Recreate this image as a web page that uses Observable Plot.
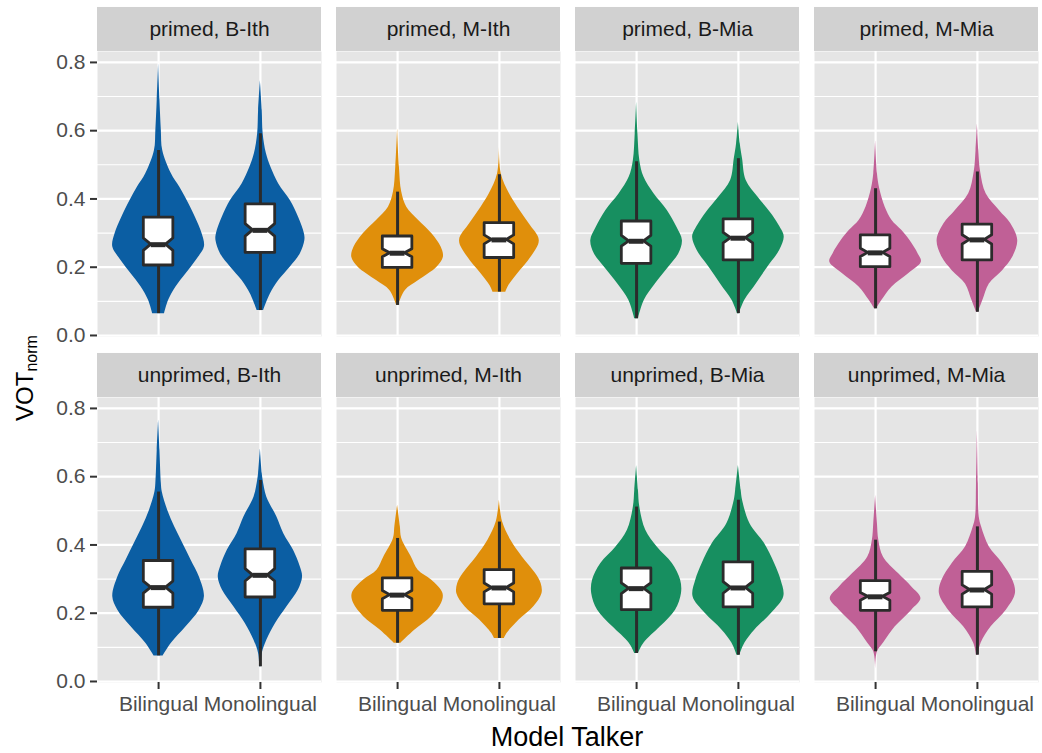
<!DOCTYPE html>
<html><head><meta charset="utf-8">
<script src="https://cdn.jsdelivr.net/npm/d3@7"></script>
<script src="https://cdn.jsdelivr.net/npm/@observablehq/plot@0.6"></script>
<style>body{margin:0;background:#fff;}</style>
</head><body><div id="chart"></div>
<script>
const primes = ["primed", "unprimed"];
const talkers = ["B-Ith", "M-Ith", "B-Mia", "M-Mia"];
const groups = ["Bilingual", "Monolingual"];
const talkerColors = ["#0B5EA3", "#E08F0B", "#178F60", "#C06096"];
const yTicks = [0, 0.2, 0.4, 0.6, 0.8];
const yMinor = [0.1, 0.3, 0.5, 0.7];

// order: primed (B-Ith Bil, B-Ith Mono, M-Ith Bil, M-Ith Mono, B-Mia Bil, B-Mia Mono, M-Mia Bil, M-Mia Mono), then unprimed, same order
const whiskerLow  = [0.064, 0.073, 0.088, 0.127, 0.049, 0.064, 0.078, 0.068,
                     0.075, 0.043, 0.112, 0.126, 0.082, 0.077, 0.087, 0.077];
const q1s         = [0.205, 0.242, 0.198, 0.227, 0.210, 0.220, 0.200, 0.220,
                     0.216, 0.246, 0.207, 0.226, 0.209, 0.217, 0.207, 0.217];
const medians     = [0.266, 0.308, 0.241, 0.280, 0.276, 0.285, 0.242, 0.280,
                     0.275, 0.311, 0.253, 0.274, 0.272, 0.274, 0.248, 0.268];
const q3s         = [0.345, 0.384, 0.290, 0.329, 0.334, 0.340, 0.293, 0.325,
                     0.353, 0.387, 0.302, 0.326, 0.331, 0.349, 0.294, 0.321];
const whiskerHigh = [0.542, 0.591, 0.420, 0.471, 0.509, 0.518, 0.430, 0.479,
                     0.555, 0.589, 0.419, 0.467, 0.511, 0.531, 0.414, 0.453];
const groupSize = 150; // estimated observations per violin (for notch size)

// violin outlines: [VOT value, relative half-width]
const primedProfiles = [
  [[.064,.13],[.103,.22],[.142,.38],[.181,.60],[.22,.82],[.259,1.0],[.298,.95],[.347,.80],[.396,.62],[.435,.46],[.474,.28],[.542,.09],[.60,.06],[.689,.03],[.796,0]],
  [[.073,.07],[.122,.22],[.161,.40],[.200,.65],[.239,.87],[.278,.97],[.298,.96],[.347,.83],[.396,.65],[.444,.40],[.493,.23],[.533,.13],[.591,.06],[.659,.04],[.747,0]],
  [[.088,.02],[.132,.17],[.161,.46],[.2,.86],[.229,1.0],[.259,.95],[.298,.75],[.337,.46],[.376,.2],[.42,.09],[.493,.04],[.606,0]],
  [[.127,.14],[.145,.2],[.181,.40],[.229,.69],[.278,.87],[.327,.65],[.376,.40],[.415,.22],[.474,.04],[.562,0]],
  [[.049,.04],[.103,.17],[.151,.41],[.2,.70],[.239,.92],[.278,1.0],[.317,.88],[.366,.67],[.415,.38],[.464,.16],[.513,.07],[.591,.03],[.684,0]],
  [[.064,.02],[.103,.14],[.151,.39],[.2,.64],[.249,.9],[.288,1.0],[.308,.95],[.357,.72],[.405,.43],[.454,.17],[.518,.09],[.562,.04],[.625,0]],
  [[.078,.02],[.103,.14],[.142,.36],[.181,.72],[.215,1.0],[.239,.93],[.278,.75],[.308,.57],[.337,.36],[.376,.21],[.43,.09],[.474,.04],[.571,0]],
  [[.068,.02],[.103,.12],[.151,.26],[.19,.55],[.229,.77],[.278,.88],[.327,.73],[.366,.48],[.415,.19],[.479,.07],[.542,.03],[.62,0]]
];
const unprimedProfiles = [
  [[.075,.10],[.112,.28],[.16,.60],[.209,.89],[.248,1.0],[.306,.89],[.355,.71],[.404,.53],[.453,.35],[.501,.20],[.555,.08],[.58,.06],[.677,.03],[.767,0]],
  [[.043,.015],[.082,.04],[.121,.14],[.17,.33],[.219,.58],[.268,.83],[.306,.92],[.336,.87],[.385,.72],[.433,.51],[.482,.36],[.54,.14],[.589,.06],[.609,.04],[.682,0]],
  [[.112,.07],[.151,.38],[.19,.74],[.229,.96],[.258,.99],[.297,.74],[.326,.45],[.365,.30],[.419,.09],[.453,.06],[.516,0]],
  [[.126,.11],[.141,.17],[.18,.43],[.219,.75],[.258,.93],[.287,.91],[.316,.79],[.365,.5],[.414,.25],[.467,.07],[.531,0]],
  [[.082,.04],[.112,.16],[.16,.52],[.209,.85],[.258,.98],[.297,.96],[.346,.78],[.394,.45],[.443,.2],[.511,.07],[.56,.04],[.633,0]],
  [[.077,.03],[.112,.14],[.151,.36],[.199,.72],[.248,.99],[.297,.93],[.346,.79],[.404,.57],[.463,.25],[.531,.09],[.56,.06],[.633,0]],
  [[.034,0],[.087,.04],[.112,.17],[.16,.43],[.209,.79],[.243,.99],[.277,.79],[.316,.5],[.365,.17],[.414,.07],[.463,.04],[.545,0]],
  [[.077,.02],[.112,.08],[.16,.30],[.209,.63],[.258,.83],[.297,.77],[.346,.55],[.394,.26],[.453,.09],[.482,.04],[.58,.02],[.735,0]]
];

const panelBg = "#E5E5E5", stripBg = "#D1D1D1", ink = "#2B2B2B";
const violinHalf = 0.45, boxHalf = 0.145;

const boxes = [], violinPts = [], boxPts = [], cells = [];
const profiles = [primedProfiles, unprimedProfiles];
let k = 0;
primes.forEach((prime, pi) => talkers.forEach((talker, ti) => {
  cells.push({prime, talker});
  groups.forEach((group, gi) => {
    const pos = gi + 1, id = k;
    const b = {id, prime, talker, group, pos, lo: whiskerLow[k], q1: q1s[k], med: medians[k], q3: q3s[k], hi: whiskerHigh[k]};
    b.notch = 1.58 * (b.q3 - b.q1) / Math.sqrt(groupSize);
    boxes.push(b);
    profiles[pi][ti * 2 + gi].forEach(([v, f]) =>
      violinPts.push({id, prime, talker, v, x1: pos - f * violinHalf, x2: pos + f * violinHalf}));
    [[b.q1, 1], [b.med - b.notch, 1], [b.med, 0.5], [b.med + b.notch, 1], [b.q3, 1]].forEach(([v, f]) =>
      boxPts.push({id, prime, talker, v, x1: pos - f * boxHalf, x2: pos + f * boxHalf}));
    k++;
  });
}));

const chart = Plot.plot({
  width: 1042, height: 753,
  marginTop: 51, marginBottom: 71, marginLeft: 96, marginRight: 2,
  style: {fontFamily: "'Liberation Sans', Arial, sans-serif", background: "#fff"},
  fx: {domain: talkers, paddingInner: 15 / 240, paddingOuter: 0, axis: null},
  fy: {domain: primes, paddingInner: 61 / 346, paddingOuter: 0, axis: null},
  x: {domain: [0.4, 2.6]},
  y: {domain: [-0.003, 0.832]},
  color: {domain: talkers, range: talkerColors},
  marks: [
    Plot.frame({fill: panelBg}),
    Plot.ruleY(yMinor, {stroke: "#fff", strokeWidth: 1.1}),
    Plot.ruleY(yTicks, {stroke: "#fff", strokeWidth: 2.2}),
    Plot.ruleX([1, 2], {stroke: "#fff", strokeWidth: 2.2}),
    Plot.rect([0], {x1: 0.4, x2: 2.6, y1: 0.832, y2: 0.961, fill: stripBg}),
    Plot.text(cells, {fx: "talker", fy: "prime", x: 1.5, y: 0.8965, text: d => `${d.prime}, ${d.talker}`, fontSize: 21, fill: "#1A1A1A"}),
    Plot.areaX(violinPts, {fx: "talker", fy: "prime", y: "v", x1: "x1", x2: "x2", z: "id", fill: "talker", curve: "catmull-rom"}),
    Plot.ruleX(boxes, {fx: "talker", fy: "prime", x: "pos", y1: "lo", y2: "hi", stroke: ink, strokeWidth: 3}),
    Plot.areaX(boxPts, {fx: "talker", fy: "prime", y: "v", x1: "x1", x2: "x2", z: "id", fill: "#fff", stroke: ink, strokeWidth: 2.8, strokeLinejoin: "round", curve: "linear"}),
    Plot.ruleY(boxes, {fx: "talker", fy: "prime", y: "med", x1: d => d.pos - boxHalf / 2, x2: d => d.pos + boxHalf / 2, stroke: ink, strokeWidth: 5}),
    Plot.axisY(yTicks, {tickFormat: d3.format(".1f"), fontSize: 21, tickSize: 7, tickPadding: 5, stroke: "#333", strokeWidth: 2, fill: "#4D4D4D", label: null}),
    Plot.axisX([1, 2], {tickFormat: d => groups[d - 1], fontSize: 21, tickSize: 7, tickPadding: 7, stroke: "#333", strokeWidth: 2, fill: "#4D4D4D", label: null})
  ]
});

const svg = d3.select(chart);
svg.append("text")
  .attr("x", 567).attr("y", 746)
  .attr("text-anchor", "middle")
  .attr("font-size", 27).attr("fill", "#000")
  .text("Model Talker");
const yt = svg.append("text")
  .attr("transform", "translate(33,378) rotate(-90)")
  .attr("text-anchor", "middle")
  .attr("font-size", 24).attr("fill", "#000");
yt.append("tspan").text("VOT");
yt.append("tspan").attr("font-size", 16).attr("dy", "0.25em").text("norm");

document.getElementById("chart").appendChild(chart);
</script>
</body></html>
